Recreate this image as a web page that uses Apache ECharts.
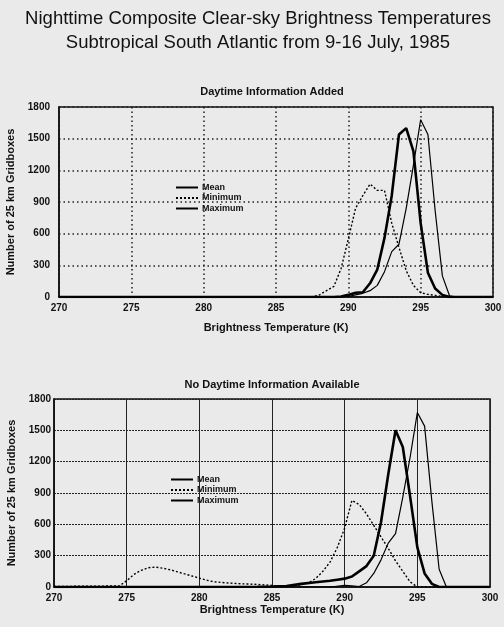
<!DOCTYPE html>
<html>
<head>
<meta charset="utf-8">
<script src="https://cdn.jsdelivr.net/npm/echarts@6/dist/echarts.min.js"></script>
<style>
  html, body { margin: 0; padding: 0; background: #eaeaea; }
  #chart { width: 504px; height: 627px; }
</style>
</head>
<body>
<div id="chart"></div>
<script>
// brightness temperature (K) vs number of 25 km gridboxes
const xTicks = [270, 275, 280, 285, 290, 295, 300];
const yTicks = [0, 300, 600, 900, 1200, 1500, 1800];
const seriesNames = ['Mean', 'Minimum', 'Maximum'];

// Daytime Information Added
const topMean = [[270,0],[289,0],[289.5,5],[290,20],[290.5,40],[291,45],[291.5,130],[292,260],[292.5,560],[293,960],[293.5,1540],[294,1600],[294.5,1380],[295,700],[295.5,230],[296,80],[296.5,20],[297,0],[300,0]];
const topMin = [[270,0],[287.5,0],[288,20],[288.5,60],[289,100],[289.5,270],[290,550],[290.5,840],[291,960],[291.5,1070],[292,1010],[292.5,1010],[293,700],[293.5,470],[294,250],[294.5,110],[295,40],[295.5,25],[296,15],[296.5,5],[297,0],[300,0]];
const topMax = [[270,0],[289.5,0],[290,5],[290.5,20],[291,35],[291.5,60],[292,110],[292.5,240],[293,430],[293.5,500],[294,840],[294.5,1250],[295,1680],[295.5,1540],[296,820],[296.5,200],[297,10],[297.5,0],[300,0]];

// No Daytime Information Available
const botMean = [[270,0],[284,3],[285,5],[286,10],[287,30],[288,45],[289,60],[289.5,70],[290,80],[290.5,100],[291,150],[291.5,200],[292,300],[292.5,620],[293,1080],[293.5,1500],[294,1340],[294.5,870],[295,380],[295.5,130],[296,30],[296.5,0],[300,0]];
const botMin = [[270,5],[274.5,10],[275,60],[275.5,120],[276,160],[276.5,185],[277,190],[277.5,180],[278,165],[278.5,145],[279,125],[279.5,105],[280,85],[280.5,65],[281,50],[282,38],[283,30],[284,25],[285,15],[286,5],[287,20],[287.5,40],[288,80],[288.5,150],[289,240],[289.5,380],[290,565],[290.5,830],[291,790],[291.5,700],[292,590],[292.5,480],[293,370],[293.5,250],[294,150],[294.5,50],[295,0],[300,0]];
const botMax = [[270,0],[289,0],[290,15],[290.5,10],[291,5],[291.5,40],[292,130],[292.5,260],[293,420],[293.5,510],[294,860],[294.5,1240],[295,1670],[295.5,1540],[296,820],[296.5,170],[297,0],[300,0]];

const font = 'Liberation Sans, Arial, Helvetica, sans-serif';
const ink = '#111';

function xAxisFor(grid, gap, gridType) {
    return {
        type: 'value', gridIndex: grid, min: xTicks[0], max: xTicks[xTicks.length - 1], interval: 5,
        name: 'Brightness Temperature (K)', nameLocation: 'middle', nameGap: gap,
        nameTextStyle: { color: ink, fontSize: 11, fontWeight: 'bold', fontFamily: font },
        axisLine: { lineStyle: { color: ink, width: 1.5 } },
        axisTick: { show: false },
        axisLabel: { color: ink, fontSize: 10, fontWeight: 'bold', fontFamily: font, margin: 6,
                     formatter: v => String(v) },
        splitLine: { show: true, lineStyle: { color: '#222', width: gridType.w, type: gridType.v } }
    };
}
function yAxisFor(grid, gap, labelMargin, gridType) {
    return {
        type: 'value', gridIndex: grid, min: yTicks[0], max: yTicks[yTicks.length - 1], interval: 300,
        name: 'Number of 25 km Gridboxes', nameLocation: 'middle', nameGap: gap,
        nameTextStyle: { color: ink, fontSize: 11, fontWeight: 'bold', fontFamily: font },
        axisLine: { show: true, lineStyle: { color: ink, width: 1.5 } },
        axisTick: { show: false },
        axisLabel: { color: ink, fontSize: 10, fontWeight: 'bold', fontFamily: font, margin: labelMargin,
                     formatter: v => String(v) },
        splitLine: { show: true, lineStyle: { color: '#222', width: gridType.w, type: gridType.h } }
    };
}
function lineSeries(name, data, idx) {
    const styles = {
        Mean: { width: 2.6, type: 'solid' },
        Minimum: { width: 1.4, type: [2, 2] },
        Maximum: { width: 1.2, type: 'solid' }
    };
    return {
        name: name, type: 'line', data: data, xAxisIndex: idx, yAxisIndex: idx,
        symbol: 'none', smooth: false, silent: true,
        lineStyle: Object.assign({ color: '#000' }, styles[name]),
        itemStyle: { color: '#000' }
    };
}
function legendAt(left, top) {
    return {
        data: seriesNames, orient: 'vertical', left: left, top: top, padding: 0,
        itemWidth: 22, itemHeight: 9, itemGap: 1.5, selectedMode: false,
        itemStyle: { opacity: 0, borderWidth: 0 },
        textStyle: { color: ink, fontSize: 9, fontWeight: 'bold', fontFamily: font, padding: [0, 0, 0, -1] }
    };
}

const chart = echarts.init(document.getElementById('chart'));
chart.setOption({
    backgroundColor: '#eaeaea',
    animation: false,
    title: [
        { text: 'Nighttime Composite Clear-sky Brightness Temperatures\nSubtropical South Atlantic from 9-16 July, 1985',
          left: 253, top: 2, textAlign: 'center',
          textStyle: { color: ink, fontSize: 18.5, fontWeight: 'normal', fontFamily: font, lineHeight: 24 } },
        { text: 'Daytime Information Added', left: 267, top: 81, textAlign: 'center',
          textStyle: { color: ink, fontSize: 11, fontWeight: 'bold', fontFamily: font } },
        { text: 'No Daytime Information Available', left: 267, top: 374, textAlign: 'center',
          textStyle: { color: ink, fontSize: 11, fontWeight: 'bold', fontFamily: font } }
    ],
    legend: [legendAt(175, 183), legendAt(170, 475)],
    grid: [
        { left: 59, right: 11, top: 107, height: 190, show: true, borderColor: ink, borderWidth: 1.5,
          containLabel: false, outerBoundsMode: 'none' },
        { left: 54, right: 14, top: 399, height: 188, show: true, borderColor: ink, borderWidth: 1.5,
          containLabel: false, outerBoundsMode: 'none' }
    ],
    xAxis: [
        xAxisFor(0, 25, { w: 1.5, v: [1.5, 3] }),
        xAxisFor(1, 17, { w: 1, v: 'solid' })
    ],
    yAxis: [
        yAxisFor(0, 40, 9, { w: 1.5, h: [1.5, 3] }),
        yAxisFor(1, 37, 3, { w: 1.2, h: [2, 1] })
    ],
    series: [
        lineSeries('Mean', topMean, 0),
        lineSeries('Minimum', topMin, 0),
        lineSeries('Maximum', topMax, 0),
        lineSeries('Mean', botMean, 1),
        lineSeries('Minimum', botMin, 1),
        lineSeries('Maximum', botMax, 1)
    ]
});
</script>
</body>
</html>
